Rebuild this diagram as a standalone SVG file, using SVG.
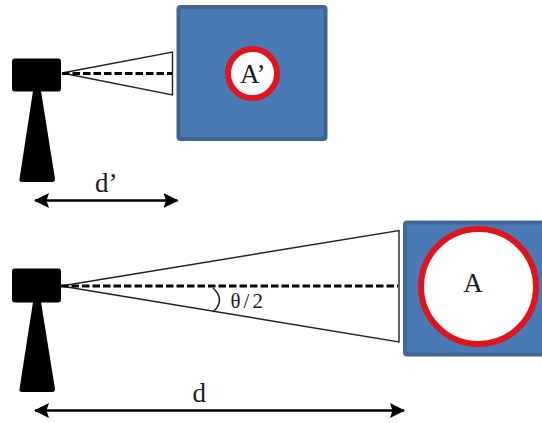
<svg xmlns="http://www.w3.org/2000/svg" width="542" height="423" viewBox="0 0 542 423">
<defs>
<marker id="arr" viewBox="0 0 15 15" refX="14" refY="7.500" markerWidth="15" markerHeight="15" markerUnits="userSpaceOnUse" orient="auto-start-reverse"><path d="M0 0L15 7.500L0 15L2.500 7.500Z" fill="#000"/></marker>
</defs>
<style>
.panel{fill:#4a7ab5;stroke:#3f6694;stroke-width:4}
.ring{fill:#fff;stroke:#e0141c}
.beam{fill:#fff;stroke:#222;stroke-width:1.4}
.axis{stroke:#000;stroke-width:2.8;stroke-dasharray:7.500 3;fill:none}
.dim{stroke:#000;stroke-width:2.6;fill:none;marker-start:url(#arr);marker-end:url(#arr)}
.cam{fill:#000}
text{font-family:"Liberation Serif",serif;fill:#1a1a1a}
</style>
<rect width="542" height="423" fill="#fff"/>
<g id="panel-top"><rect class="panel" x="178.500" y="7" width="147" height="132" rx="2"/><circle class="ring" cx="252.500" cy="73.500" r="24.500" stroke-width="6"/><text x="240" y="83" font-size="27">A’</text></g>
<g id="panel-bottom"><rect class="panel" x="405" y="222.500" width="139" height="132" rx="2"/><circle class="ring" cx="478.500" cy="286.500" r="57.500" stroke-width="6"/><text x="473" y="292" font-size="27" text-anchor="middle">A</text></g>
<g id="camera-top"><rect class="cam" x="12" y="58.500" width="49" height="33" rx="3"/><path class="cam" d="M33 91L41 91L55 179Q55 182 52 182L22 182Q19 182 19.500 179Z"/></g>
<g id="camera-bottom"><rect class="cam" x="12" y="268.500" width="49" height="34" rx="3"/><path class="cam" d="M33 302L41 302L55 389Q55 392 52 392L22 392Q19 392 19.500 389Z"/></g>
<g id="connectors">
<path class="beam" d="M62 73L172.500 52V95Z"/>
<path class="axis" d="M62 73.500H172"/>
<path class="beam" d="M61 286L399 230.500V342Z"/>
<path class="axis" d="M61 286H398"/>
<path d="M213 288Q226 300 213 312" fill="none" stroke="#222" stroke-width="1.600"/>
<path class="dim" d="M35 200.500H177.500"/>
<path class="dim" d="M35 410.500H404"/>
</g>
<g id="labels">
<text x="95" y="192" font-size="27">d’</text>
<text x="192.500" y="402" font-size="27">d</text>
<text x="230.500" y="308" font-size="21" letter-spacing="3">θ/2</text>
</g>
</svg>
